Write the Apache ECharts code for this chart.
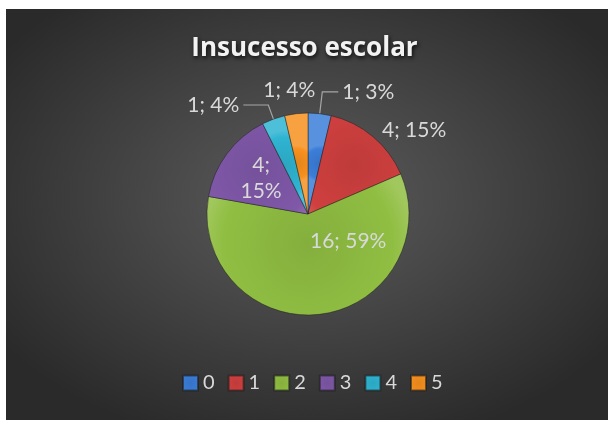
<!DOCTYPE html>
<html>
<head>
<meta charset="utf-8">
<script src="https://cdn.jsdelivr.net/npm/echarts@6/dist/echarts.min.js"></script>
<style>
  html, body { margin: 0; padding: 0; background: #ffffff; }
  #bg { position: absolute; left: 6px; top: 9px; width: 602px; height: 411px;
        background: radial-gradient(ellipse 62% 62% at 50% 46%, #5c5c5c 0%, #464646 45%, #2a2a2a 100%); }
  #chart { position: absolute; left: 0; top: 0; width: 609px; height: 421px; }
</style>
</head>
<body>
<div id="bg"></div>
<div id="chart"></div>
<script>
// ---- data ----
const categories = ['0', '1', '2', '3', '4', '5'];
const values = [1, 4, 16, 4, 1, 1];
const percentLabels = ['3%', '15%', '59%', '15%', '4%', '4%'];
const titleText = 'Insucesso escolar';

// ---- styles ----
const colors = ['#3b7dd8', '#cf403f', '#90be42', '#7f58a8', '#2fb4d2', '#f7901e'];
const labelStyles = [
  { position: 'outside', lineLen: 22, lineLen2: 16 },
  { position: 'outside', lineLen: 8, lineLen2: 0, noLine: true },
  { position: 'inside', offset: [34, -26] },
  { position: 'inside', wrap: true, offset: [-4, -4] },
  { position: 'outside', lineLen: 15, lineLen2: 25 },
  { position: 'outside', lineLen: 8, lineLen2: 0, noLine: true, above: true }
];

function shade(hex, f) {
  const n = parseInt(hex.slice(1), 16);
  let r = (n >> 16) & 255, g = (n >> 8) & 255, b = n & 255;
  const m = v => Math.max(0, Math.min(255, Math.round(f >= 0 ? v + (255 - v) * f : v * (1 + f))));
  return 'rgb(' + m(r) + ',' + m(g) + ',' + m(b) + ')';
}

const data = categories.map((c, i) => {
  const s = labelStyles[i];
  const txt = values[i] + ';' + (s.wrap ? '\n' : ' ') + percentLabels[i];
  const item = {
    name: c,
    value: values[i],
    itemStyle: {
      color: {
        type: 'radial', x: 0.5, y: 0.5, r: 0.75,
        colorStops: [
          { offset: 0, color: shade(colors[i], -0.08) },
          { offset: 0.8, color: colors[i] },
          { offset: 1, color: shade(colors[i], 0.15) }
        ]
      }
    },
    label: { position: s.position, formatter: txt },
    labelLine: { show: !s.noLine, length: s.lineLen || 8, length2: s.lineLen2 || 0 }
  };
  if (s.offset) item.label.offset = s.offset;
  if (s.wrap) item.label.lineHeight = 26;
  return item;
});

const chart = echarts.init(document.getElementById('chart'), null, { renderer: 'canvas' });
chart.setOption({
  backgroundColor: 'transparent',
  animation: false,
  title: {
    text: titleText,
    left: 'center',
    top: 31,
    textStyle: {
      color: '#f2f2f2', fontSize: 26, fontWeight: 'bold', fontFamily: 'Open Sans',
      textShadowColor: 'rgba(0,0,0,0.8)', textShadowBlur: 4, textShadowOffsetX: 1, textShadowOffsetY: 2
    }
  },
  legend: {
    bottom: 23,
    left: 177,
    itemWidth: 15,
    itemHeight: 15,
    itemGap: 13,
    icon: 'rect',
    textStyle: { color: '#d9d9d9', fontSize: 20, fontFamily: 'Lato' },
    data: categories
  },
  series: [{
    type: 'pie',
    center: [308, 214],
    radius: 101,
    startAngle: 90,
    clockwise: true,
    avoidLabelOverlap: false,
    itemStyle: { borderColor: 'rgba(30,30,30,0.6)', borderWidth: 0.8 },
    label: {
      color: '#d9d9d9', fontSize: 21, fontFamily: 'Lato',
      textBorderWidth: 0, distanceToLabelLine: 4
    },
    labelLine: { lineStyle: { color: '#a6a6a6', width: 1.2 } },
    labelLayout: function (p) {
      const s = labelStyles[p.dataIndex];
      if (s && s.above && p.rect) {
        return {
          x: p.rect.x + p.rect.width / 2 - 7,
          y: p.rect.y - 22,
          align: 'center',
          verticalAlign: 'middle',
          hideOverlap: false
        };
      }
      return { hideOverlap: false };
    },
    data: data
  }]
});
</script>
</body>
</html>
